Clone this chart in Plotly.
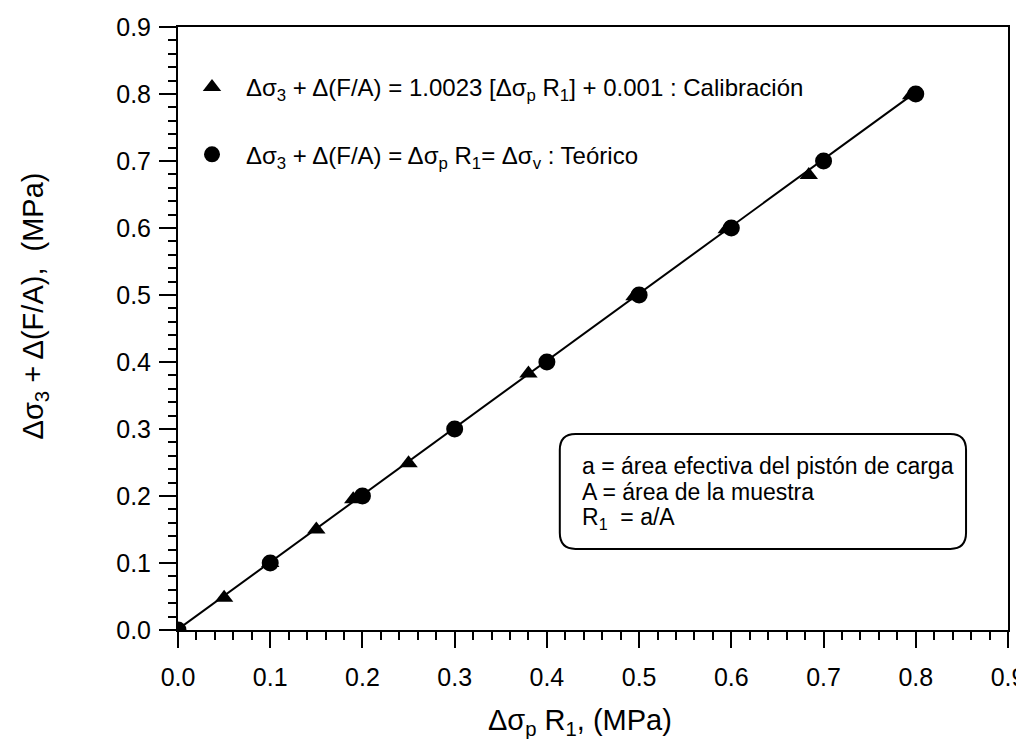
import plotly.graph_objects as go

# Calibration points (triangles)
cal_x = [0.0, 0.05, 0.10, 0.15, 0.19, 0.25, 0.38, 0.495, 0.595, 0.684, 0.795]
cal_y = [0.0, 0.048, 0.10, 0.15, 0.195, 0.249, 0.383, 0.498, 0.598, 0.679, 0.798]

# Theoretical points (circles)
teo_x = [0.0, 0.1, 0.2, 0.3, 0.4, 0.5, 0.6, 0.7, 0.8]
teo_y = [0.0, 0.1, 0.2, 0.3, 0.4, 0.5, 0.6, 0.7, 0.8]

# Calibration fit line end points: y = 1.0023 x + 0.001
fit_x = [0.0, 0.8]
fit_y = [0.001, 0.80284]

tick_vals = [0.0, 0.1, 0.2, 0.3, 0.4, 0.5, 0.6, 0.7, 0.8, 0.9]
tick_text = ["0.0", "0.1", "0.2", "0.3", "0.4", "0.5", "0.6", "0.7", "0.8", "0.9"]

x_title = "Δσ<sub>p</sub> R<sub>1</sub>, (MPa)"
y_title = "Δσ<sub>3</sub> + Δ(F/A),  (MPa)"
legend_cal = "Δσ<sub>3</sub> + Δ(F/A) = 1.0023 [Δσ<sub>p</sub> R<sub>1</sub>] + 0.001 : Calibración"
legend_teo = "Δσ<sub>3</sub> + Δ(F/A) = Δσ<sub>p</sub> R<sub>1</sub>= Δσ<sub>v</sub> : Teórico"
inset_lines = ["a = área efectiva del pistón de carga",
               "A = área de la muestra",
               "R<sub>1</sub>\u00a0 = a/A"]

FONT = "Arial, Liberation Sans, sans-serif"

fig = go.Figure()
fig.add_trace(go.Scatter(x=fit_x, y=fit_y, mode="lines",
                         line=dict(color="black", width=2), showlegend=False,
                         hoverinfo="skip"))
fig.add_trace(go.Scatter(x=cal_x, y=cal_y, mode="markers", name=legend_cal,
                         legendgroup="cal",
                         marker=dict(symbol="triangle-up", size=16, color="black")))
fig.add_trace(go.Scatter(x=teo_x, y=teo_y, mode="markers", name=legend_teo,
                         legendgroup="teo",
                         marker=dict(symbol="circle", size=17, color="black")))

axis_common = dict(
    range=[0, 0.9], tickvals=tick_vals, ticktext=tick_text,
    showline=True, linecolor="black", linewidth=2, mirror=True,
    ticks="outside", tickcolor="black", tickwidth=2,
    showgrid=False, zeroline=False, automargin=False,
    tickfont=dict(family=FONT, size=25, color="black"),
    minor=dict(dtick=0.02, tick0=0, ticks="outside", ticklen=8,
               tickwidth=2, tickcolor="black", showgrid=False),
)

fig.update_xaxes(**axis_common, ticklen=16, ticklabelstandoff=8)
fig.update_yaxes(**axis_common, ticklen=17, ticklabelstandoff=3)

# Axis titles
fig.add_annotation(text=x_title, xref="paper", yref="paper",
                   x=0.484, y=-0.152, xanchor="center", yanchor="middle",
                   showarrow=False,
                   font=dict(family=FONT, size=29, color="black"))
fig.add_annotation(text=y_title, xref="paper", yref="paper",
                   x=-0.172, y=0.537, xanchor="center", yanchor="middle",
                   textangle=-90, showarrow=False,
                   font=dict(family=FONT, size=29, color="black"))

# Rounded inset box (data coordinates)
x0, x1, y0, y1 = 0.414, 0.8545, 0.121, 0.2925
rx, ry = 0.017, 0.024
path = (f"M {x0+rx},{y1} L {x1-rx},{y1} Q {x1},{y1} {x1},{y1-ry} "
        f"L {x1},{y0+ry} Q {x1},{y0} {x1-rx},{y0} L {x0+rx},{y0} "
        f"Q {x0},{y0} {x0},{y0+ry} L {x0},{y1-ry} Q {x0},{y1} {x0+rx},{y1} Z")
fig.add_shape(type="path", path=path, xref="x", yref="y",
              line=dict(color="black", width=2), fillcolor="rgba(0,0,0,0)")

for txt, yy in zip(inset_lines, [0.2448, 0.206, 0.167]):
    fig.add_annotation(x=0.436, y=yy, xref="x", yref="y", text=txt,
                       showarrow=False, xanchor="left", yanchor="middle",
                       font=dict(family=FONT, size=23, color="black"))

fig.update_layout(
    width=1024, height=739,
    margin=dict(l=170, r=24, t=19, b=117),
    paper_bgcolor="white", plot_bgcolor="white",
    font=dict(family=FONT, color="black"),
    legend=dict(x=0.0, y=0.937, xanchor="left", yanchor="top",
                bgcolor="rgba(0,0,0,0)", borderwidth=0,
                font=dict(family=FONT, size=24, color="black"),
                tracegroupgap=33, itemwidth=58),
)

fig.write_html("out.html")
